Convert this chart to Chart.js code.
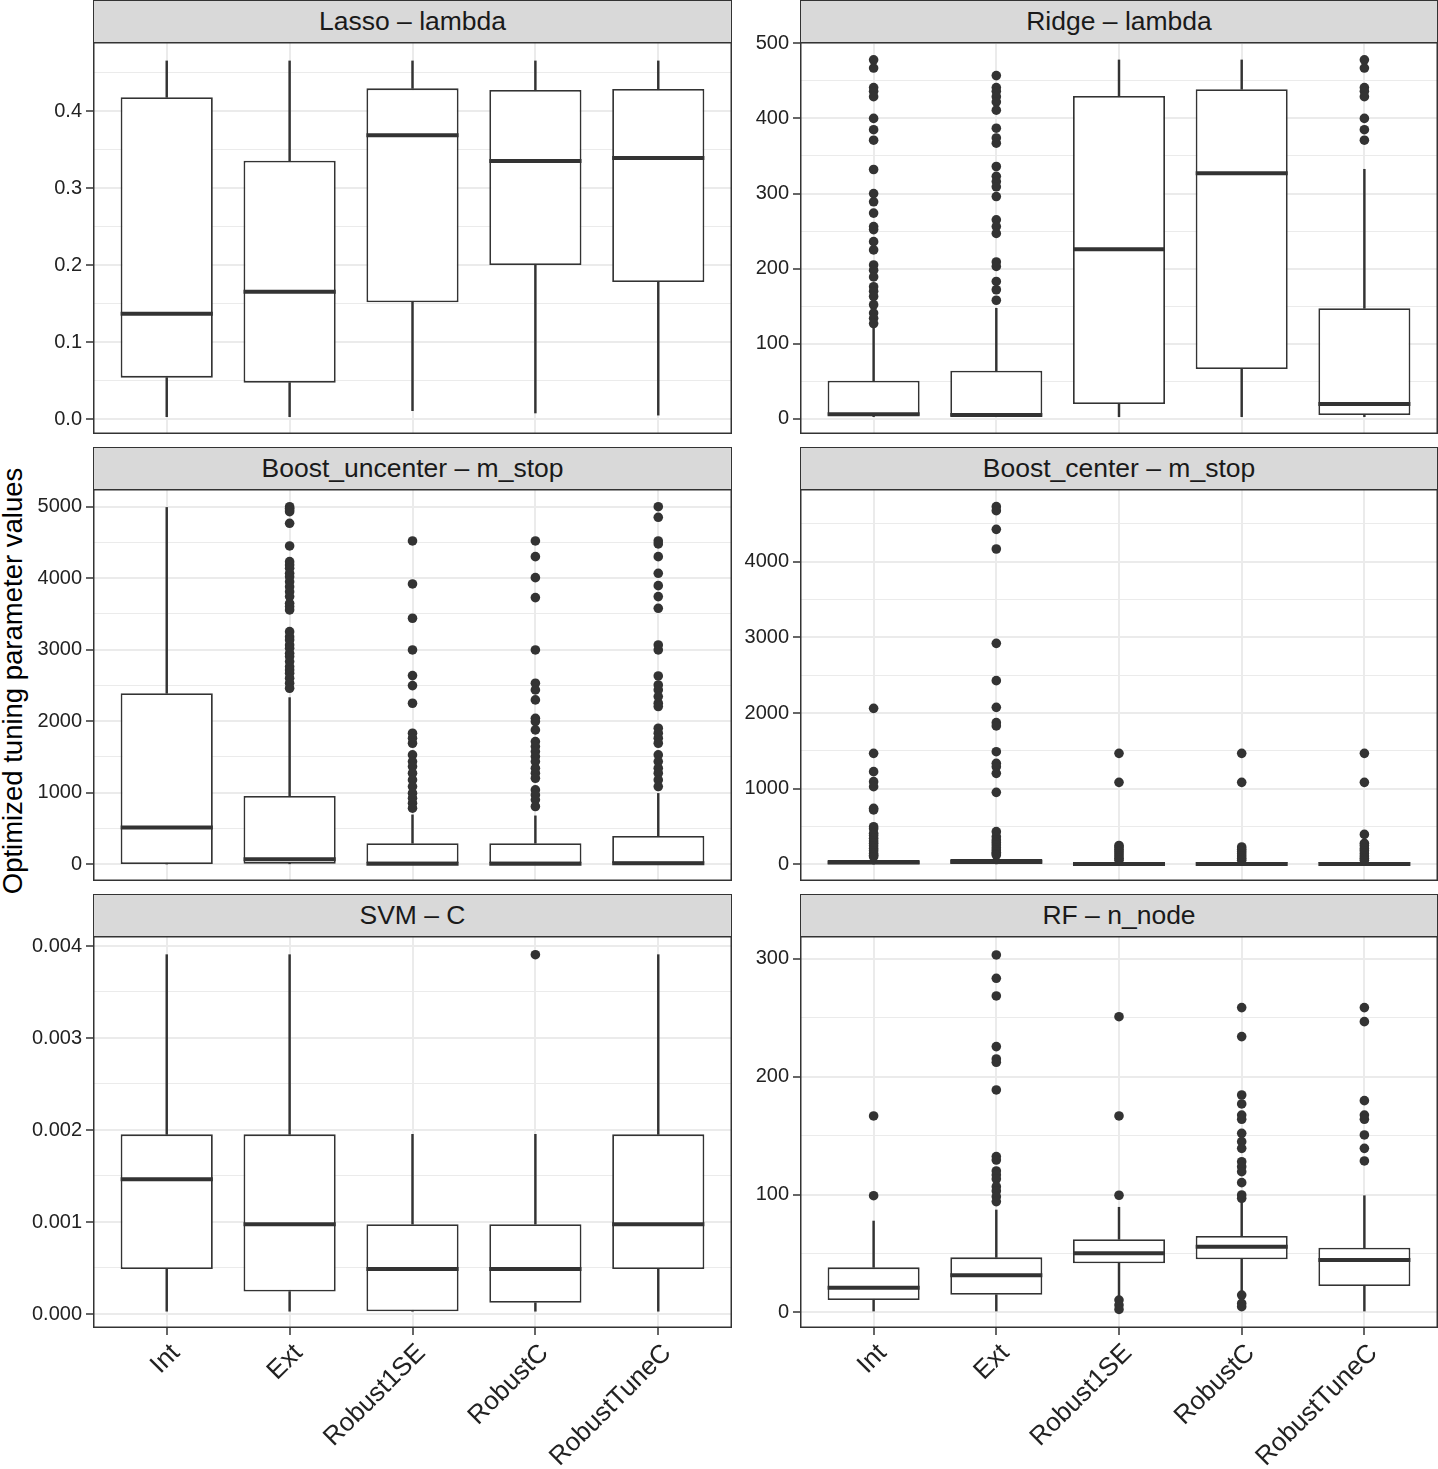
<!DOCTYPE html>
<html><head><meta charset="utf-8">
<script src="https://cdn.jsdelivr.net/npm/chart.js@4.4.1/dist/chart.umd.min.js"></script>
<style>
body{margin:0;background:#fff;}
#wrap{position:relative;width:1438px;height:1469px;overflow:hidden;font-family:"Liberation Sans",Arial,Helvetica,sans-serif;background:#fff;}
.strip{position:absolute;box-sizing:border-box;height:43px;background:#d9d9d9;border:1.5px solid #333;display:flex;align-items:center;justify-content:center;font-size:26.5px;color:#1a1a1a;white-space:nowrap;}
canvas{position:absolute;}
#ytitle{position:absolute;left:13px;top:681px;transform:translate(-50%,-50%) rotate(-90deg);white-space:nowrap;font-size:27.5px;color:#000;}
</style></head><body><div id="wrap"><div id="ytitle">Optimized tuning parameter values</div></div>
<script>
const categories = ['Int','Ext','Robust1SE','RobustC','RobustTuneC'];
const panelTitles = ['Lasso \u2013 lambda','Ridge \u2013 lambda','Boost_uncenter \u2013 m_stop','Boost_center \u2013 m_stop','SVM \u2013 C','RF \u2013 n_node'];

// each row: [lower whisker, Q1, median, Q3, upper whisker] per category
const lassoBox = [
  [0.003, 0.0537, 0.1368, 0.4178, 0.465],
  [0.003, 0.0472, 0.1654, 0.3355, 0.465],
  [0.0108, 0.1515, 0.3684, 0.4294, 0.465],
  [0.0078, 0.200, 0.335, 0.4273, 0.465],
  [0.005, 0.178, 0.339, 0.4286, 0.465]
];
const lassoOut = [[],[],[],[],[]];

const ridgeBox = [
  [3.1, 4.4, 6.2, 51, 120.7],
  [3.1, 4.0, 5.3, 64.3, 147.3],
  [3.1, 20, 225.8, 429.9, 477.8],
  [3.1, 66.5, 327, 438.8, 477.8],
  [3.1, 5.3, 20, 147.3, 332.3]
];
const ridgeOut = [
  [478,467,441,436,429,400,385,371,332,300,289,274,256,252,236,225,205,198,189,176,170,163,152,141,134,127],
  [457,441,436,429,422,411,387,374,367,336,323,316,309,296,265,256,247,209,203,183,172,158],
  [],
  [],
  [478,467,441,436,429,400,385,371]
];

const boostUncenterBox = [
  [0, 2, 513, 2391, 4990],
  [0, 5, 70, 955, 2330],
  [0, 0, 5, 294, 690],
  [0, 0, 5, 294, 676],
  [0, 0, 14, 396, 990]
];
const boostUncenterOut = [
  [],
  [5000,4978,4954,4931,4768,4451,4232,4185,4139,4069,4022,3952,3882,3812,3743,3649,3603,3556,3253,3183,3137,3067,3020,2950,2904,2834,2764,2717,2671,2601,2531,2461],
  [4521,3920,3440,2997,2638,2498,2251,1832,1762,1692,1529,1435,1366,1272,1179,1086,993,923,853,783],
  [4521,4302,4008,3729,2997,2531,2438,2298,2041,1995,1878,1715,1645,1575,1505,1435,1342,1272,1202,1039,969,900,807],
  [5000,4852,4521,4479,4302,4069,3896,3743,3579,3067,2997,2633,2507,2438,2344,2251,2205,1902,1832,1762,1692,1529,1435,1342,1272,1179,1086]
];

const boostCenterBox = [
  [0, 2, 25, 58, 98],
  [0, 5, 35, 72, 118],
  [0, 0, 6, 28, 40],
  [0, 0, 6, 28, 40],
  [0, 0, 6, 28, 40]
];
const boostCenterOut = [
  [2062,1467,1225,1093,1027,740,720,498,470,410,380,344,310,278,245,211,180,145,120,101],
  [4728,4675,4428,4168,2921,2428,2075,1873,1829,1489,1335,1290,1203,952,432,366,322,290,256,220,189,160,140,123],
  [1467,1084,250,230,200,170,140,110,80,55],
  [1467,1084,230,200,170,140,110,80,55],
  [1467,1084,396,278,250,211,180,145,110,80,55]
];

const svmBox = [
  [0.0000305, 0.000488, 0.001465, 0.001953, 0.003906],
  [0.0000305, 0.000244, 0.000977, 0.001953, 0.003906],
  [0.0000305, 0.0000305, 0.000488, 0.000977, 0.001953],
  [0.0000305, 0.000122, 0.000488, 0.000977, 0.001953],
  [0.0000305, 0.000488, 0.000977, 0.001953, 0.003906]
];
const svmOut = [[],[],[],[0.003906],[]];

const rfBox = [
  [1.1, 10.4, 20.9, 38.2, 77.5],
  [1.1, 14.9, 31.4, 46.7, 86.9],
  [13.2, 41.6, 50.1, 62, 89.2],
  [17.5, 45, 55.7, 64.8, 95.3],
  [1.1, 22.3, 44.4, 54.8, 99]
];
const rfOut = [
  [166.7, 99],
  [303.4,283.6,268.6,225.6,215.1,212.3,188.8,132.2,129.3,120,116.6,113.2,106.7,103,98.2,94],
  [251,166.7,99.4,10.4,6.2,2.5],
  [258.7,234.1,184.5,176.9,167.5,163.9,152,144.9,139.2,127.9,123.7,119.4,110.1,99.6,96.8,14.7,7.6,4.8],
  [258.7,246.8,179.7,167.5,163.9,150.6,139.2,128.5]
];

const yRanges = [[-0.0195,0.4896],[-20,501.7],[-235,5248],[-220,4961],[-0.000152,0.004109],[-13.3,319.5]];
const majorSteps = [0.1, 100, 1000, 1000, 0.001, 100];
const tickDecimals = [1, 0, 0, 0, 3, 0];

const boxes = [lassoBox, ridgeBox, boostUncenterBox, boostCenterBox, svmBox, rfBox];
const outliers = [lassoOut, ridgeOut, boostUncenterOut, boostCenterOut, svmOut, rfOut];

// ---- layout ----
const FONT = '"Liberation Sans", Arial, Helvetica, sans-serif';
const ROW_TOP = [0, 447, 894], STRIP_H = 43, PLOT_H = 392, PAD = 20, XAX_H = 141;
const COLS = [{left:0, width:732, yw:93, stripL:93, stripW:639}, {left:733, width:705, yw:67, stripL:800, stripW:638}];
const DARK = '#333333', TICKTXT = '#222222', GRID = '#ebebeb';

const borderPlugin = {
  id: 'panelBorder',
  afterDraw(chart) {
    const {ctx, chartArea: a} = chart;
    ctx.save();
    ctx.strokeStyle = DARK; ctx.lineWidth = 1.5;
    ctx.strokeRect(a.left + 0.75, a.top + 0.75, a.right - a.left - 1.5, a.bottom - a.top - 1.5);
    ctx.restore();
  }
};

const wrap = document.getElementById('wrap');

panelTitles.forEach((title, i) => {
  const row = Math.floor(i / 2), col = COLS[i % 2];
  const bottom = row === 2;
  const plotTop = ROW_TOP[row] + STRIP_H - 1;

  const strip = document.createElement('div');
  strip.className = 'strip';
  strip.style.left = col.stripL + 'px';
  strip.style.top = ROW_TOP[row] + 'px';
  strip.style.width = col.stripW + 'px';
  strip.textContent = title;
  wrap.appendChild(strip);

  const h = PAD + PLOT_H + (bottom ? XAX_H : 0);
  const cv = document.createElement('canvas');
  cv.width = col.width; cv.height = h;
  cv.style.left = col.left + 'px'; cv.style.top = (plotTop - PAD) + 'px';
  cv.style.width = col.width + 'px'; cv.style.height = h + 'px';
  wrap.appendChild(cv);

  const box = boxes[i], out = outliers[i];
  const major = majorSteps[i], minor = major / 2, dec = tickDecimals[i];
  const isMajor = v => Math.abs(v / major - Math.round(v / major)) < 1e-6;
  const medRadius = ctx => {
    const xs = ctx.chart.scales.x;
    return Math.abs(xs.getPixelForValue(2) - xs.getPixelForValue(1)) * 0.375;
  };

  new Chart(cv, {
    type: 'bar',
    data: {
      datasets: [
        {type:'bar', data: box.map((b, k) => ({x: k + 1, y: [b[0], b[1]]})), backgroundColor: DARK, borderWidth: 0, barThickness: 1.8, grouped: false, order: 4},
        {type:'bar', data: box.map((b, k) => ({x: k + 1, y: [b[3], b[4]]})), backgroundColor: DARK, borderWidth: 0, barThickness: 1.8, grouped: false, order: 4},
        {type:'bar', data: box.map((b, k) => ({x: k + 1, y: [b[1], b[3]]})), backgroundColor: '#ffffff', borderColor: DARK, borderWidth: 1.8, borderSkipped: false, barPercentage: 0.75, categoryPercentage: 1, grouped: false, order: 3},
        {type:'scatter', data: box.map((b, k) => ({x: k + 1, y: b[2]})), pointStyle: 'line', pointRadius: medRadius, pointHoverRadius: medRadius, pointBorderColor: DARK, pointBorderWidth: 4, order: 2},
        {type:'scatter', data: out.flatMap((arr, k) => arr.map(v => ({x: k + 1, y: v}))), pointRadius: 4.8, pointBackgroundColor: DARK, pointBorderWidth: 0, order: 1}
      ]
    },
    options: {
      responsive: false, animation: false, devicePixelRatio: 1,
      layout: {padding: {top: PAD, left: 0, right: 0, bottom: 0}, autoPadding: false},
      plugins: {legend: {display: false}, tooltip: {enabled: false}},
      scales: {
        x: {
          type: 'linear', min: 0.4, max: 5.6, offset: false,
          afterBuildTicks: s => { s.ticks = categories.map((c, k) => ({value: k + 1})); },
          ticks: {
            autoSkip: false, display: bottom,
            minRotation: 45, maxRotation: 45, labelOffset: 9, padding: 3,
            font: {size: 26, family: FONT}, color: TICKTXT,
            callback: v => Math.abs(v - Math.round(v)) < 1e-9 ? categories[Math.round(v) - 1] : ''
          },
          grid: {offset: false, color: GRID, lineWidth: 2, drawTicks: bottom, tickLength: 7, tickColor: DARK, tickWidth: 1.5},
          border: {display: false},
          afterFit: s => { s.height = bottom ? XAX_H : 0; s.paddingLeft = 0; s.paddingRight = 0; s.paddingTop = 0; s.paddingBottom = 0; }
        },
        y: {
          type: 'linear', min: yRanges[i][0], max: yRanges[i][1], beginAtZero: false,
          afterBuildTicks: s => {
            const t = [];
            for (let k = Math.ceil(s.min / minor); k * minor <= s.max + 1e-12; k++) {
              t.push({value: Number((k * minor).toFixed(10))});
            }
            s.ticks = t;
          },
          ticks: {
            autoSkip: false, padding: 4,
            font: {size: 20, family: FONT}, color: TICKTXT,
            callback: v => isMajor(v) ? Number(v).toFixed(dec) : ''
          },
          grid: {
            color: GRID,
            lineWidth: c => (c.tick && isMajor(c.tick.value)) ? 2 : 1.1,
            tickLength: 7,
            tickColor: c => (c.tick && isMajor(c.tick.value)) ? DARK : 'rgba(0,0,0,0)',
            tickWidth: 1.5
          },
          border: {display: false},
          afterFit: s => { s.width = col.yw; s.paddingTop = 0; s.paddingBottom = 0; s.paddingLeft = 0; s.paddingRight = 0; }
        }
      }
    },
    plugins: [borderPlugin]
  });
});
</script>
</body></html>
